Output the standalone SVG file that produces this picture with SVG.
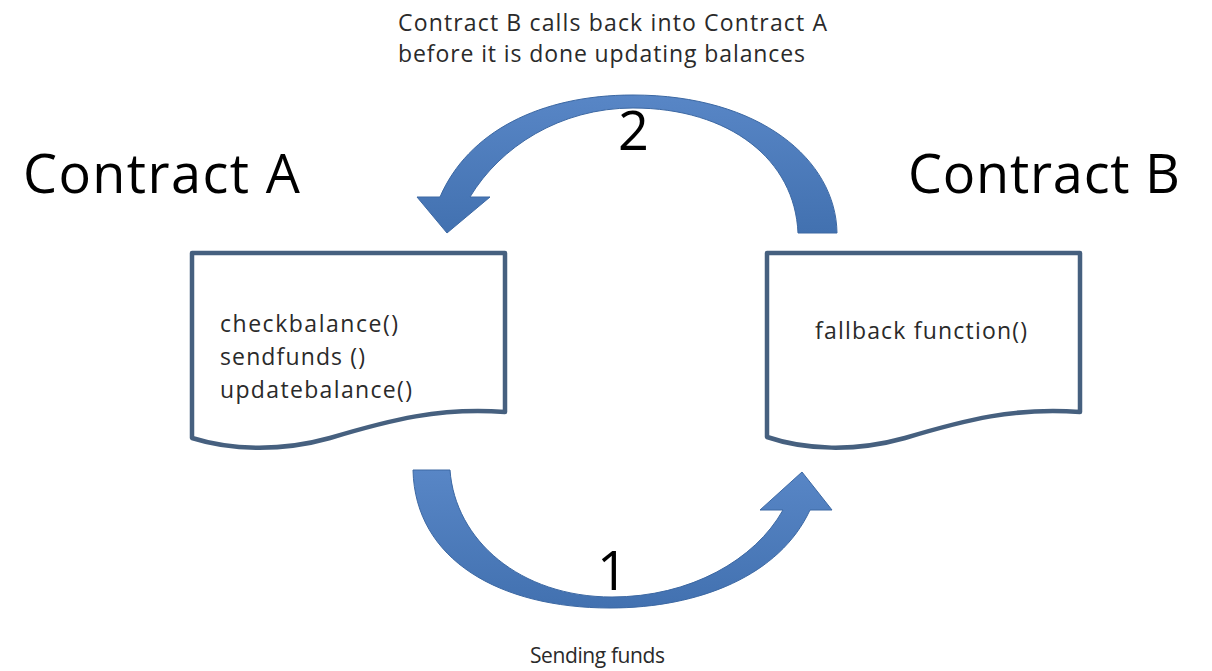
<svg xmlns="http://www.w3.org/2000/svg" width="1212" height="671" viewBox="0 0 1212 671">
  <defs>
    <linearGradient id="arrowGrad" x1="0" y1="0" x2="0" y2="1">
      <stop offset="0" stop-color="#5886c6"/>
      <stop offset="1" stop-color="#4271b0"/>
    </linearGradient>
  </defs>
  <style>
    .txt { font-family: "Open Sans", "Liberation Sans", sans-serif; fill: #1a1a1a; }
    .title { font-size: 54px; fill: #000; }
    .num { font-size: 54px; fill: #000; }
    .note { font-size: 23px; fill: #2a2a2a; }
    .small { font-size: 21px; fill: #2a2a2a; }
    .code { font-size: 23px; fill: #2a2a2a; }
    .doc { fill: #ffffff; stroke: #46607f; stroke-width: 4.5; stroke-linejoin: round; }
    .arrow { fill: url(#arrowGrad); stroke: #3c68a3; stroke-width: 1; }
  </style>
  <rect width="1212" height="671" fill="#ffffff"/>

  <g id="caption-top">
    <text class="txt note" x="398" y="31" textLength="429">Contract B calls back into Contract A</text>
    <text class="txt note" x="398" y="62" textLength="407">before it is done updating balances</text>
  </g>

  <g id="contract-a">
    <text class="txt title" x="23" y="193" textLength="277">Contract A</text>
    <path class="doc" d="M192,253 H505 V412 C440,407 390,420 330,438 C280,452 230,450 192,438 Z"/>
    <text class="txt code" x="220" y="332" textLength="178">checkbalance()</text>
    <text class="txt code" x="220" y="365" textLength="145">sendfunds ()</text>
    <text class="txt code" x="220" y="398" textLength="192">updatebalance()</text>
  </g>

  <g id="contract-b">
    <text class="txt title" x="908" y="193" textLength="272">Contract B</text>
    <path class="doc" d="M767,253 H1080 V412 C1015,407 965,420 905,438 C855,452 805,450 767,437 Z"/>
    <text class="txt code" x="815" y="339" textLength="212">fallback function()</text>
  </g>

  <g id="connectors">
    <g id="arrow-2">
      <path class="arrow" d="M837,233 C836,160 760,95 633,95 C540,95 468,132 440,197 L417,197 L447,233 L490,197 L470,197 C500,147 560,108 633,108 C730,108 795,160 798,233 Z"/>
      <text class="txt num" x="618" y="150">2</text>
    </g>
    <g id="arrow-1">
      <path class="arrow" d="M413,470 L450,470 C455,540 520,597 612,597 C690,597 755,560 783,510 L760,510 L802,472 L832,510 L810,510 C780,575 700,608 610,608 C500,608 415,560 413,470 Z"/>
      <text class="txt num" x="597" y="590">1</text>
      <text class="txt small" x="530" y="663" textLength="135">Sending funds</text>
    </g>
  </g>
</svg>
